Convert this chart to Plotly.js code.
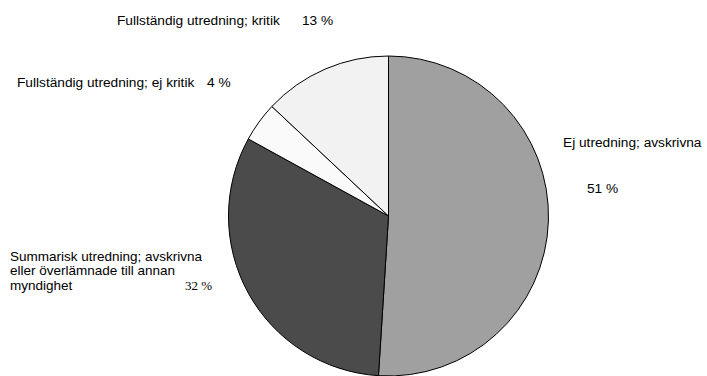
<!DOCTYPE html>
<html>
<head>
<meta charset="utf-8">
<script src="https://cdn.plot.ly/plotly-3.0.1.min.js"></script>
<style>html,body{margin:0;padding:0;background:#fff;}#chart{width:707px;height:376px;}</style>
</head>
<body>
<div id="chart"></div>
<script>
// Data
const categories = [
  "Ej utredning; avskrivna",
  "Summarisk utredning; avskrivna eller överlämnade till annan myndighet",
  "Fullständig utredning; ej kritik",
  "Fullständig utredning; kritik"
];
const labelLines = [
  ["Ej utredning; avskrivna"],
  ["Summarisk utredning; avskrivna", "eller överlämnade till annan", "myndighet"],
  ["Fullständig utredning; ej kritik"],
  ["Fullständig utredning; kritik"]
];
const values = [51, 32, 4, 13];

// Styles
const colors = ["#a0a0a0", "#4b4b4b", "#fafafa", "#f2f2f2"];
const W = 707, H = 376;
const px = x => x / W;
const py = y => 1 - y / H;
const font = {family: "Liberation Sans", size: 13.7, color: "#000"};
const fontMulti = {family: "Liberation Sans", size: 13.5, color: "#000"};
const serif = {family: "Liberation Serif", size: 13, color: "#000"};

const pct = values.map(v => v + " %");

const trace = {
  type: "pie",
  labels: categories,
  values: values,
  sort: false,
  direction: "clockwise",
  rotation: 0,
  textinfo: "none",
  hoverinfo: "label+percent",
  marker: {colors: colors, line: {color: "#000", width: 1}},
  domain: {x: [px(228.5), px(548.5)], y: [0, 320 / H]},
  showlegend: false
};

const labelPos = [
  {x: 561, y: [142]},
  {x: 8, y: [256, 270.5, 285.5]},
  {x: 15, y: [83]},
  {x: 115, y: [20.5]}
];
const pctPos = [
  {x: 585, y: 188, f: font},
  {x: 183, y: 285, f: serif},
  {x: 205, y: 83, f: font},
  {x: 300, y: 20.5, f: font}
];

const annotations = [];
labelLines.forEach((lines, i) => {
  lines.forEach((t, j) => {
    annotations.push({text: t, x: px(labelPos[i].x), y: py(labelPos[i].y[j]), font: lines.length > 1 ? fontMulti : font});
  });
  annotations.push({text: pct[i], x: px(pctPos[i].x), y: py(pctPos[i].y), font: pctPos[i].f});
});
annotations.forEach(a => Object.assign(a, {xref: "paper", yref: "paper", xanchor: "left", yanchor: "middle", showarrow: false}));

const layout = {
  width: W, height: H,
  margin: {l: 0, r: 0, t: 0, b: 0},
  paper_bgcolor: "#fff",
  plot_bgcolor: "#fff",
  annotations: annotations
};

Plotly.newPlot("chart", [trace], layout, {displayModeBar: false, staticPlot: true});
</script>
</body>
</html>
